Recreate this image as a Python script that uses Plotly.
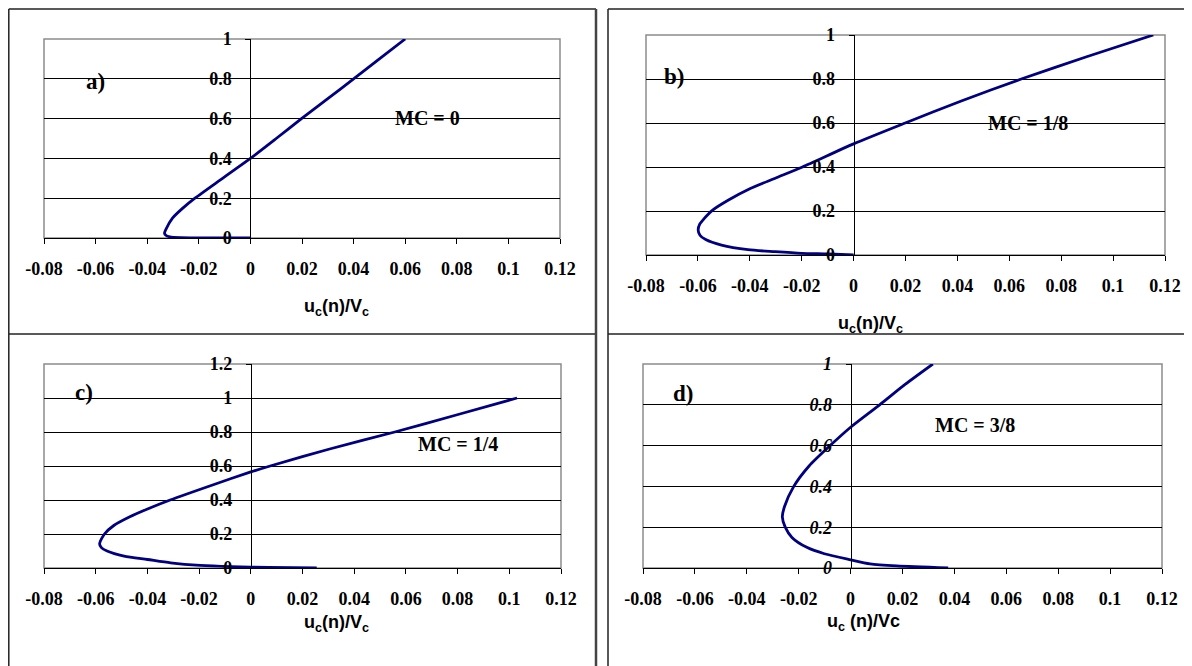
import plotly.graph_objects as go

# ---------------- data ----------------
x_tickvals = [-0.08, -0.06, -0.04, -0.02, 0, 0.02, 0.04, 0.06, 0.08, 0.1, 0.12]
x_ticktext = ["-0.08", "-0.06", "-0.04", "-0.02", "0", "0.02", "0.04", "0.06", "0.08", "0.1", "0.12"]
y_tickvals = [0, 0.2, 0.4, 0.6, 0.8, 1]
y_ticktext = ["0", "0.2", "0.4", "0.6", "0.8", "1"]
y_tickvals_c = [0, 0.2, 0.4, 0.6, 0.8, 1, 1.2]
y_ticktext_c = ["0", "0.2", "0.4", "0.6", "0.8", "1", "1.2"]

# panel a) MC = 0
a_x = [0.0, -0.010, -0.020, -0.027, -0.0312, -0.0328, -0.0333, -0.0327, -0.0302, -0.0262,
       -0.0215, -0.0108, 0.0, 0.0100, 0.0198, 0.0300, 0.0400, 0.0500, 0.0600]
a_y = [0.0, 0.0, 0.0008, 0.002, 0.006, 0.014, 0.025, 0.045, 0.10, 0.150,
       0.200, 0.300, 0.400, 0.500, 0.600, 0.700, 0.800, 0.900, 1.000]

# panel b) MC = 1/8
b_x = [0.0, -0.0098, -0.0200, -0.0303, -0.0407, -0.0509, -0.0570, -0.0592, -0.0599, -0.0593,
       -0.0580, -0.0542, -0.0482, -0.0402, -0.0300, -0.0197, 0.0, 0.0199, 0.0415, 0.0646,
       0.0895, 0.1155]
b_y = [0.0, 0.0045, 0.0076, 0.015, 0.024, 0.045, 0.070, 0.090, 0.114, 0.140,
       0.160, 0.205, 0.25, 0.30, 0.35, 0.40, 0.505, 0.60, 0.70, 0.80,
       0.90, 1.00]

# panel c) MC = 1/4
c_x = [0.0255, 0.007, -0.0077, -0.0195, -0.031, -0.040, -0.049, -0.0556, -0.0578, -0.0585,
       -0.0566, -0.0530, -0.0470, -0.0395, -0.0312, -0.0145, 0.0, 0.0075, 0.0305, 0.0557,
       0.0795, 0.103]
c_y = [0.0, 0.004, 0.008, 0.015, 0.03, 0.05, 0.07, 0.10, 0.12, 0.143,
       0.20, 0.25, 0.30, 0.35, 0.40, 0.49, 0.565, 0.60, 0.70, 0.80,
       0.90, 1.00]

# panel d) MC = 3/8
d_x = [0.0376, 0.0178, 0.0075, 0.0, -0.0101, -0.0167, -0.0226, -0.0252, -0.0263, -0.0255,
       -0.0219, -0.016, -0.0079, 0.0, 0.0112, 0.021, 0.0317]
d_y = [0.0, 0.01, 0.02, 0.04, 0.07, 0.10, 0.15, 0.20, 0.25, 0.30,
       0.40, 0.50, 0.60, 0.69, 0.80, 0.90, 1.00]

panel_labels = ["a)", "b)", "c)", "d)"]
mc_labels = ["MC = 0", "MC = 1/8", "MC = 1/4", "MC = 3/8"]
x_titles = ["u<sub>c</sub>(n)/V<sub>c</sub>", "u<sub>c</sub>(n)/V<sub>c</sub>",
            "u<sub>c</sub>(n)/V<sub>c</sub>", "u<sub>c</sub> (n)/Vc"]

# ---------------- layout helpers ----------------
# the page body adds an 8px margin, so the figure is 8px smaller and all
# screen positions below are shifted by that offset
OFF = 8
W, H = 1192 - OFF, 666 - OFF
def px(x):
    return (x - OFF) / W
def py(y):
    return 1 - (y - OFF) / H

SERIF = "Liberation Serif, Times New Roman, serif"
SANS = "Liberation Sans, Arial, sans-serif"
LINE = "#000080"

# plot-area screen-pixel boxes: (left, right, top, bottom)
boxes = [(44, 560, 39, 238), (646, 1165, 35, 255), (44, 561, 364, 568), (643, 1162, 364, 568)]
yranges = [[0, 1], [0, 1], [0, 1.2], [0, 1]]
series = [(a_x, a_y), (b_x, b_y), (c_x, c_y), (d_x, d_y)]
label_pos = [(84, 67), (674, 62), (73, 392), (683, 393)]
mc_pos = [(427, 105), (1070, 110), (458, 457), (1017, 425)]
title_pos = [(302, 307), (905, 325), (302, 637), (902, 636)]

fig = go.Figure()
layout = dict(width=W, height=H,
              margin=dict(l=0, r=0, t=0, b=0, pad=0, autoexpand=False),
              paper_bgcolor="white", plot_bgcolor="white", showlegend=False,
              shapes=[], annotations=[])

for i, ((xs, ys), (l, r, t, b)) in enumerate(zip(series, boxes)):
    n = "" if i == 0 else str(i + 1)
    xa, ya = "x" + n, "y" + n
    fig.add_trace(go.Scatter(x=xs, y=ys, mode="lines", xaxis=xa, yaxis=ya,
                             line=dict(color=LINE, width=2.8, shape="spline", smoothing=0.7),
                             hoverinfo="skip"))
    yr = yranges[i]
    ytv = y_tickvals_c if i == 2 else y_tickvals
    ytt = y_ticktext_c if i == 2 else y_ticktext
    yfont = dict(family=SERIF, size=18, color="black", weight="bold")
    if i == 3:
        yfont["style"] = "italic"
    layout["xaxis" + n] = dict(
        domain=[px(l), px(r)], range=[-0.08, 0.12], anchor=ya,
        tickvals=x_tickvals, ticktext=x_ticktext, ticks="outside", ticklen=5,
        tickcolor="black", showline=True, linecolor="black", linewidth=1,
        showgrid=False, zeroline=False, ticklabelstandoff=9, automargin=False,
        tickfont=dict(family=SERIF, size=18, color="black", weight="bold"),
        fixedrange=True)
    layout["yaxis" + n] = dict(
        domain=[py(b), py(t)], range=yr, anchor="free",
        position=px(l + 0.4 * (r - l)),
        tickvals=ytv, ticktext=ytt, ticks="outside", ticklen=5, tickcolor="black",
        showline=True, linecolor="black", linewidth=1,
        showgrid=True, gridcolor="black", gridwidth=1, zeroline=False,
        ticklabelstandoff=10, tickfont=yfont, automargin=False, fixedrange=True)
    # gray plot-area frame
    layout["shapes"].append(dict(type="rect", xref="paper", yref="paper",
                                 x0=px(l), x1=px(r), y0=py(b), y1=py(t),
                                 line=dict(color="#8c8c8c", width=1.5), layer="between"))
    lx, ly = label_pos[i]
    layout["annotations"].append(dict(x=px(lx), y=py(ly), xref="paper", yref="paper",
                                      text=panel_labels[i], showarrow=False,
                                      font=dict(family=SERIF, size=23, color="black", weight="bold")))
    mx, my = mc_pos[i]
    layout["annotations"].append(dict(x=px(mx), y=py(my), xref="paper", yref="paper",
                                      text=mc_labels[i], showarrow=False,
                                      font=dict(family=SERIF, size=20, color="black", weight="bold")))
    tx, ty = title_pos[i]
    layout["annotations"].append(dict(x=px(tx), y=py(ty), xref="paper", yref="paper",
                                      text=x_titles[i], showarrow=False,
                                      font=dict(family=SANS, size=18, color="black", weight="bold")))

# outer panel frame lines
def seg(x0, y0, x1, y1, w=1.5, c="#222222"):
    return dict(type="line", xref="paper", yref="paper", x0=px(x0), y0=py(y0),
                x1=px(x1), y1=py(y1), line=dict(color=c, width=w), layer="above")

layout["shapes"] += [
    seg(8.8, 9, 8.8, 666), seg(8.8, 9, 596, 9), seg(8.8, 334, 596, 334),
    seg(596, 9, 596, 666, w=2.5, c="#444444"),
    seg(608, 9, 608, 666), seg(608, 9, 1192, 9), seg(608, 334, 1192, 334),
]

fig.update_layout(**layout)
fig.write_html("out.html")
